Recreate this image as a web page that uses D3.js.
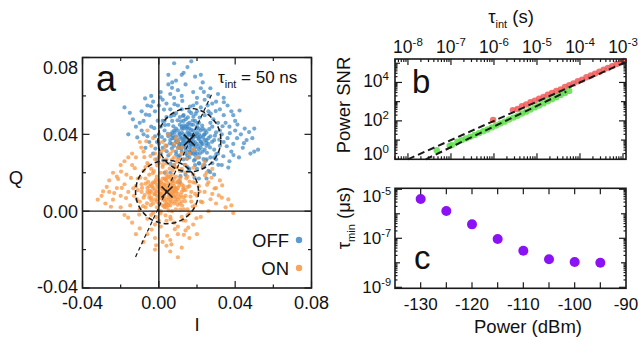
<!DOCTYPE html>
<html><head><meta charset="utf-8">
<script src="https://cdn.jsdelivr.net/npm/d3@7"></script>
<style>
body{margin:0;background:#fff}
svg{display:block}
text{font-family:"Liberation Sans",Arial,Helvetica,sans-serif;fill:#111}
</style>
</head><body>
<svg id="chart" width="639" height="339"></svg>
<script>
// ---------------- DATA ----------------
// Panel a: IQ scatter, coordinates in units of 0.001 (I, Q pairs)
const IQ_UNIT = 0.001;
const offPoints = [
16,37, 14,38, 18,36, 15,35, 17,40, 13,36, 19,39, 12,38, 20,35, 16,33, 15,41, 18,42, 11,35, 21,38, 14,33, 17,34, 13,40, 19,33, 16,40, 20,41, 12,41, 22,36, 10,37, 18,38, 14,36, 17,37, 15,39, 19,36, 13,34, 21,40,
8,38, 24,37, 16,46, 16,28, 9,43, 23,43, 9,31, 23,31, 11,45, 21,46, 11,29, 21,28, 7,35, 25,34, 7,41, 25,41, 13,47, 19,47, 13,27, 19,27, 6,37, 26,38, 10,33, 22,33, 10,42, 22,42, 14,44, 18,30, 12,31, 20,44, 8,34, 24,40, 17,45, 15,29, 9,39, 23,35, 11,40, 21,32, 15,44, 17,30, 6,40, 26,35, 12,44, 20,30, 10,36, 22,39, 14,30, 18,45, 8,42, 24,32, 13,43, 19,31, 11,33, 21,43, 16,43, 16,31, 7,38, 25,37, 12,35, 20,39,
3,37, 29,37, 16,52, 16,22, 5,45, 27,46, 5,29, 27,28, 0,40, 32,34, 2,33, 30,41, 8,50, 24,50, 8,24, 24,24, 12,53, 20,52, 12,21, 20,22, 1,44, 31,30, 4,49, 28,25, -1,36, 33,40, 6,53, 26,52, 6,20, 26,21, 10,55, 22,54, 3,42, 29,32, 4,34, 28,44, 18,55, 14,19, 1,30, 31,46, 7,47, 25,27, 9,51, 23,23, 2,47, 30,27, -2,39, 34,36, 13,50, 19,24, 5,39, 27,39, 11,49, 21,25, 0,35, 32,42, 17,51, 15,23, 3,47, 29,28,
-4,44, 36,38, -6,39, 38,31, -3,30, 35,46, -8,47, 40,42, -5,50, 37,26, 0,55, 32,53, 2,58, 30,57, 6,61, 26,60, 10,63, 22,64, 14,66, 18,62, -7,33, 39,35, -9,42, 41,38, -2,52, 34,50, 4,56, 28,56, 8,59, 24,58, 12,60, 20,59, -5,36, 37,44, -1,27, 33,24, 3,20, 29,19, 7,16, 25,17, 11,15, 21,17, -10,46, 43,40, -6,55, 38,52, 1,62, 31,61, 5,66, 27,64, 9,68, 23,67, 13,72, 19,70, 17,78, -8,40, 44,33, 46,37, 48,30, 49,38, 50,31, 42,28, 45,43, 40,47, 36,55, 34,59, 39,50, -3,57, 5,71, 15,75, 22,71, -12,44, -9,52, -4,60,
8,77, 12,71, 7,67, -18,54, -16,40, 52,32, 50,43,
15.5,36.2, 17.3,38.8, 13.7,39.1, 18.6,34.4, 12.4,36.9, 20.8,37.6, 16.9,42.3, 14.2,31.8, 19.7,43.1, 10.8,40.4, 22.3,34.9, 16.1,30.6, 13.1,44.7, 21.6,30.1, 9.4,35.8, 23.7,39.8, 17.8,47.2, 14.8,27.4, 11.9,32.6, 20.2,45.9, 8.3,40.9, 24.9,35.6, 15.2,48.8, 18.4,26.3, 7.6,44.2, 26.4,42.7, 12.7,49.6, 21.1,24.8, 10.2,28.3, 25.2,30.4, 6.8,32.7, 27.9,36.1, 19.3,50.6, 13.6,24.1, 4.7,40.2, 28.6,47.8, 9.8,47.3, 23.4,27.1, 17.1,34.8, 15.8,40.7, 18.9,40.1, 13.3,37.8, 11.2,38.6, 21.9,36.4, 16.6,35.1, 14.6,42.9, 19.1,29.2, 12.1,43.1, 22.7,44.6, 8.9,36.3, 24.2,42.1, 17.4,31.9, 15.1,45.3, 20.6,33.7, 10.6,34.1, 23.1,38.4, 14.1,47.9, 18.1,49.2, 7.2,39.4, 26.8,33.2, 11.6,46.8, 21.4,48.7, 9.1,29.6, 24.6,26.2, 5.8,35.3, 29.4,39.3, 16.3,54.4, 15.7,21.4, 3.2,44.8, 31.7,37.2, 6.3,49.4, 27.2,50.8, 4.1,31.2, 30.1,29.7, 1.6,38.6, 33.4,44.2, 19.8,56.3, 12.3,57.4, -0.6,47.1, 35.6,33.8, 2.7,52.9, 29.8,52.1, 8.2,55.7, 25.6,55.1, -2.4,43.2, 37.2,40.6, -6.8,50.3, 41.2,45.1, -11.3,38.4, 44.6,35.4, 0.8,59.3, 34.1,56.7, -4.1,54.6, 39.1,29.2, -13.6,47.8, 47.3,41.2, 23.6,62.1, 6.9,64.2, -7.2,58.7, 42.3,52.4, -15.2,51.2, 36.4,22.7, 2.3,26.4, 31.2,24.1, -1.8,32.6, 6.1,24.6, 11.3,18.2, 26.9,20.3, 18.7,17.4, 33.8,28.6
];
const onPoints = [
4,10, 2,11, 6,9, 3,8, 5,12, 1,9, 7,11, 0,10, 8,8, 4,6, 3,14, 6,14, -1,8, 9,10, 2,6, 5,7, 1,13, 7,7, 4,13, 8,13, 0,12, 10,9, -2,11, 6,11, 2,9, 5,10, 3,12, 7,9, 1,7, 9,12,
-4,10, 12,10, 4,19, 4,2, -3,15, 11,16, -3,4, 11,4, -1,18, 9,18, -1,2, 9,1, -5,7, 13,7, -5,13, 13,13, 1,20, 7,19, 1,0, 7,0, -6,10, 14,11, -2,6, 10,6, -2,15, 10,15, 2,17, 6,3, 0,4, 8,17, -4,7, 12,14, 5,18, 3,2, -3,12, 11,7, -1,14, 9,5, 3,17, 5,3, -6,12, 14,8, 0,16, 8,4, -2,9, 10,12, 2,3, 6,18, -4,14, 12,5, 1,15, 7,5, -1,5, 9,15, 4,16, 4,4, -5,9, 13,11, 0,8, 8,12,
-9,10, 17,10, 4,25, 4,-5, -7,17, 15,18, -7,2, 15,1, -12,13, 20,8, -10,5, 18,15, -4,22, 12,22, -4,-2, 12,-3, 0,25, 8,24, 0,-5, 8,-6, -11,17, 19,3, -8,21, 16,-1, -13,8, 21,13, -6,25, 14,24, -6,-4, 14,-5, -2,27, 10,27, -2,-7, 10,-8, -9,14, 17,5, -10,1, 18,19, -5,19, 13,1, -3,-1, 11,21, -8,7, 16,13, 2,23, 6,-3, -11,11, 19,9, -7,23, 15,-2, 1,-8, 7,27,
-16,10, 24,10, -18,14, 22,5, -15,3, 26,15, -20,8, 28,9, -17,19, 25,20, -14,24, 23,24, -12,28, 20,28, -8,31, 16,30, -4,34, 12,33, 0,36, 8,35, 5,40, -6,42, -10,36, -14,30, -22,12, -24,6, -26,16, -28,4, -30,8, -32,6, -20,2, -18,-2, -14,-6, -10,-9, -6,-12, -2,-14, 2,-16, 6,-15, 10,-12, 14,-10, 18,-7, 22,-3, 26,0, 30,4, 33,7, 35,2, 38,3, 39,-1, 30,12, 32,16, 28,22, -24,20, -20,24, -16,28, -2,-20, 6,-21, 12,-19, 10,-24, 4,-18, -8,-16, -12,-12, 16,-14, 20,-12, -26,10, -22,18, 24,26, 3,32, 9,38, -3,38, 18,32, -18,26,
6,30, 10,33, 2,36, -2,30, 8,28, 12,30, 0,28, 4,27,
3.6,10.4, 5.3,8.7, 1.8,11.6, 6.7,12.3, 2.4,7.2, 7.8,9.6, 0.6,9.1, 4.9,14.6, 3.1,5.4, 9.3,11.2, -0.8,12.7, 5.9,5.9, 1.2,15.1, 8.6,6.4, -2.3,8.8, 10.7,13.4, 4.2,17.2, 2.9,2.8, -3.4,12.9, 11.6,8.3, 6.4,16.8, 0.3,3.9, -1.6,16.3, 9.9,3.3, -4.8,10.6, 12.8,11.9, 3.8,20.6, 5.1,0.4, -5.6,15.2, 13.7,5.2, 7.3,21.4, 0.9,-1.2, -7.4,8.4, 15.2,12.6, -3.1,19.8, 11.2,0.8, -6.2,4.1, 14.4,17.1, 2.2,24.2, 6.2,-4.2, -8.8,12.1, 16.6,7.6, -1.2,-3.1, 9.6,22.8, -9.7,17.4, 17.8,2.4, -11.6,6.3, 19.2,14.8, -5.3,24.1, 12.6,-4.8, -13.4,11.9, 21.4,10.2, 0.2,28.6, 8.4,-9.4, -14.6,17.3, 22.8,4.6, -10.3,-1.8, 18.1,22.6, -17.2,6.8, 25.3,13.7, -7.6,28.1, 14.7,27.2, -19.4,12.1, 27.1,6.2, -3.8,-9.6, 13.1,-12.3, -21.3,16.7, 29.2,11.8, -16.1,-3.4, 4.4,-12.8, -9.2,33.1, 1.4,31.3, -12.6,22.4, 19.7,-3.7, -23.4,9.4, 24.2,18.6, -27.3,12.6, 31.4,8.2, -6.6,36.4, 6.6,-17.3, 15.4,-8.6, -1.4,-17.8, -19.8,20.6, 27.6,17.4, -25.1,2.3, 33.2,13.4, -29.2,10.3, 36.4,6.1, -4.2,3.1, 11.3,17.4, -2.6,20.8, 7.4,14.2, 1.7,12.3, 5.6,4.6, -0.4,6.2, 8.2,10.6, 3.3,16.4, 6.1,7.8, 2.6,13.8, 4.6,11.6, 0.4,14.1, 7.1,15.6, -1.1,10.2, 9.1,7.6, 3.9,3.6, 10.3,15.9, -3.9,5.6, 12.2,2.9, 5.7,22.1, -6.9,14.3, 16.1,15.4, -0.9,23.8, 9.3,25.6, -8.3,2.6, 3.5,-2.2, 13.9,20.1,
7.3,31.4, 3.4,34.2, 9.8,36.1, -4.4,28.7, 11.4,27.3
];
const stateCentersI = [0.016, 0.0043];   // OFF, ON
const stateCentersQ = [0.037, 0.010];
const stateRadius = 0.0165;
const axisLineI = [-0.0122, 0.0281];
const axisLineQ = [-0.0238, 0.0617];
const legendLabels = ["OFF", "ON"];
const ticksIQ = [-0.04, -0.02, 0.00, 0.02, 0.04, 0.06, 0.08];
const ticksIQLabels = ["-0.04", "0.00", "0.04", "0.08"];

// Panel b: power SNR vs integration time
const tauRed = [9.55e-7,2.75e-6,3.55e-6,4.47e-6,5.62e-6,7.08e-6,8.91e-6,1.12e-5,1.41e-5,1.78e-5,2.24e-5,2.82e-5,3.55e-5,4.47e-5,5.62e-5,7.08e-5,8.91e-5,1.12e-4,1.41e-4,1.78e-4,2.24e-4,2.82e-4,3.55e-4,4.47e-4,5.62e-4,7.08e-4,8.91e-4,1.05e-3];
const snrRed = [112,363,417,575,708,933,1120,1445,1740,2290,2820,3630,4370,5750,7240,8910,11500,14100,18600,22900,28800,36300,45700,57500,70800,91200,112000,132000];
const tauGreen = [4.68e-8,9.33e-8,1.05e-7,1.41e-7,1.78e-7,2.24e-7,2.82e-7,3.55e-7,4.47e-7,5.62e-7,7.08e-7,8.91e-7,1.12e-6,1.41e-6,1.78e-6,2.24e-6,2.82e-6,3.55e-6,4.47e-6,5.62e-6,7.08e-6,8.91e-6,1.12e-5,1.41e-5,1.78e-5,2.24e-5,2.82e-5,3.55e-5,4.47e-5,5.62e-5];
const snrGreen = [2.95,5.01,5.50,8.32,10,12.0,14.8,18.6,22.9,28.8,35.5,45.7,57.5,72.4,91.2,117,148,186,240,302,389,501,631,813,1047,1318,1698,2188,2818,3631];
const fitUpperTau = [1e-8, 1.15e-3];
const fitUpperSnr = [1, 1.15e5];
const fitLowerTau = [2.6e-8, 4.8e-5];
const fitLowerSnr = [1, 3300];
const tauTickExps = [-8, -7, -6, -5, -4, -3];
const snrTickExps = [0, 2, 4];

// Panel c: minimum time vs power
const powerDbm = [-130, -125, -120, -115, -110, -105, -100, -95];
const tauMin = [4.0e-6, 1.3e-6, 3.7e-7, 9.3e-8, 3.1e-8, 1.4e-8, 1.07e-8, 1.0e-8];
const powerTicks = [-130, -120, -110, -100, -90];
const tauMinTickExps = [-5, -7, -9];

// ---------------- DRAW ----------------
const svg = d3.select("#chart");
const ink = "#1a1a1a";

function frame(x0, x1, y0, y1) {
  svg.append("rect").attr("x", x0).attr("y", y0).attr("width", x1 - x0).attr("height", y1 - y0)
    .attr("fill", "none").attr("stroke", ink).attr("stroke-width", 1.6);
}
function tick(x1, y1, x2, y2) {
  svg.append("line").attr("x1", x1).attr("y1", y1).attr("x2", x2).attr("y2", y2)
    .attr("stroke", ink).attr("stroke-width", 1.2);
}
function powLabel(x, y, anchor, exp, size, supSize) {
  const t = svg.append("text").attr("x", x).attr("y", y).attr("text-anchor", anchor)
    .attr("font-size", size);
  t.append("tspan").text("10");
  t.append("tspan").attr("dy", -size * 0.42).attr("font-size", supSize).text(String(exp));
  return t;
}
function logTicks(scale) {
  const [a, b] = scale.domain();
  const out = [];
  for (let k = Math.floor(Math.log10(a)); k <= Math.ceil(Math.log10(b)); k++) {
    for (let m = 1; m <= 9; m++) {
      const v = m * Math.pow(10, k);
      if (v >= a * 0.9999 && v <= b * 1.0001) out.push({ v, k, major: m === 1 });
    }
  }
  return out;
}

// ===== Panel a =====
const xA = d3.scaleLinear().domain([-0.04, 0.08]).range([82.5, 311.5]);
const yA = d3.scaleLinear().domain([-0.04, 0.08]).range([288, 57.5]);

const toPairs = arr => d3.range(0, arr.length, 2).map(i => [arr[i] * IQ_UNIT, arr[i + 1] * IQ_UNIT]);
const offData = toPairs(offPoints);
const onData = toPairs(onPoints);
const offColor = "#3d88c5", onColor = "#f8943f";

const gA = svg.append("g");
gA.selectAll("circle.off").data(offData).join("circle").attr("class", "off")
  .attr("cx", d => xA(d[0])).attr("cy", d => yA(d[1])).attr("r", 2.1)
  .attr("fill", offColor).attr("fill-opacity", 0.72);
gA.selectAll("circle.on").data(onData).join("circle").attr("class", "on")
  .attr("cx", d => xA(d[0])).attr("cy", d => yA(d[1])).attr("r", 2.1)
  .attr("fill", onColor).attr("fill-opacity", 0.72);

// zero lines
svg.append("line").attr("x1", xA(0)).attr("x2", xA(0)).attr("y1", yA(0.08)).attr("y2", yA(-0.04))
  .attr("stroke", ink).attr("stroke-width", 1.4);
svg.append("line").attr("x1", xA(-0.04)).attr("x2", xA(0.08)).attr("y1", yA(0)).attr("y2", yA(0))
  .attr("stroke", ink).attr("stroke-width", 1.4);

// state circles
stateCentersI.forEach((ci, i) => {
  svg.append("ellipse").attr("cx", xA(ci)).attr("cy", yA(stateCentersQ[i]))
    .attr("rx", xA(stateRadius) - xA(0)).attr("ry", yA(0) - yA(stateRadius))
    .attr("fill", "none").attr("stroke", ink).attr("stroke-width", 1.5).attr("stroke-dasharray", "5,3");
  svg.append("path").attr("transform", `translate(${xA(ci)},${yA(stateCentersQ[i])})`)
    .attr("d", "M-5.5,-5.5L5.5,5.5M-5.5,5.5L5.5,-5.5").attr("stroke", ink).attr("stroke-width", 1.6);
});
svg.append("line").attr("x1", xA(axisLineI[0])).attr("y1", yA(axisLineQ[0]))
  .attr("x2", xA(axisLineI[1])).attr("y2", yA(axisLineQ[1]))
  .attr("stroke", ink).attr("stroke-width", 1.2).attr("stroke-dasharray", "4,3");

frame(82.5, 311.5, 57.5, 288);
ticksIQ.forEach(v => {
  const major = Math.abs(v / 0.04 - Math.round(v / 0.04)) < 1e-6;
  const L = major ? 7 : 3.5;
  const x = xA(v), y = yA(v);
  tick(x, 288, x, 288 - L); tick(x, 57.5, x, 57.5 + L);
  tick(82.5, y, 82.5 + L, y); tick(311.5, y, 311.5 - L, y);
});
ticksIQLabels.forEach(s => {
  const v = +s;
  svg.append("text").attr("x", xA(v)).attr("y", 309).attr("text-anchor", "middle").attr("font-size", 18).text(s);
  svg.append("text").attr("x", 78).attr("y", Math.min(Math.max(yA(v) + 6.5, 74), 293)).attr("text-anchor", "end").attr("font-size", 18).text(s);
});
svg.append("text").attr("x", 197).attr("y", 331).attr("text-anchor", "middle").attr("font-size", 18.5).text("I");
svg.append("text").attr("x", 16).attr("y", 184).attr("text-anchor", "middle").attr("font-size", 18.5).text("Q");
svg.append("text").attr("x", 96).attr("y", 91).attr("font-size", 36).text("a");
const tA = svg.append("text").attr("x", 218).attr("y", 83).attr("font-size", 17);
tA.append("tspan").text("τ");
tA.append("tspan").attr("dy", 5).attr("font-size", 11).text("int");
tA.append("tspan").attr("dy", -5).text(" = 50 ns");
// legend
const legColors = [offColor, onColor];
legendLabels.forEach((s, i) => {
  svg.append("text").attr("x", 289).attr("y", 247 + i * 28).attr("text-anchor", "end").attr("font-size", 18.5).text(s);
  svg.append("circle").attr("cx", 299).attr("cy", 240 + i * 28).attr("r", 3.2).attr("fill", legColors[i]).attr("fill-opacity", 0.85);
});

// ===== Panel b =====
const bL = 395, bR = 626, bT = 59, bB = 159.3;
const xB = d3.scaleLog().domain([5e-9, 1.175e-3]).range([bL, bR]);
const yB = d3.scaleLog().domain([1, 1.66e5]).range([bB, bT]);

svg.append("g").selectAll("circle").data(tauRed.map((t, i) => [t, snrRed[i]])).join("circle")
  .attr("cx", d => xB(d[0])).attr("cy", d => yB(d[1])).attr("r", 3.2)
  .attr("fill", "#f25a5a").attr("fill-opacity", 0.85);
svg.append("g").selectAll("circle").data(tauGreen.map((t, i) => [t, snrGreen[i]])).join("circle")
  .attr("cx", d => xB(d[0])).attr("cy", d => yB(d[1])).attr("r", 3.2)
  .attr("fill", "#5ce046").attr("fill-opacity", 0.85);
[[fitUpperTau, fitUpperSnr], [fitLowerTau, fitLowerSnr]].forEach(([tt, ss]) => {
  svg.append("line").attr("x1", xB(tt[0])).attr("y1", yB(ss[0])).attr("x2", xB(tt[1])).attr("y2", yB(ss[1]))
    .attr("stroke", ink).attr("stroke-width", 2).attr("stroke-dasharray", "7,4");
});
frame(bL, bR, bT, bB);
logTicks(xB).forEach(t => {
  const L = t.major ? 6 : 3;
  const x = xB(t.v);
  tick(x, bT, x, bT + L); tick(x, bB, x, bB - L);
});
logTicks(yB).forEach(t => {
  const L = t.major ? (t.k % 2 === 0 ? 7 : 5) : 2.5;
  const y = yB(t.v);
  tick(bL, y, bL + L, y); tick(bR, y, bR - L, y);
});
tauTickExps.forEach(e => powLabel(xB(Math.pow(10, e)), 53, "middle", e, 17.5, 11.5));
snrTickExps.forEach(e => powLabel(389, Math.min(yB(Math.pow(10, e)) + 5, bB + 1), "end", e, 17.5, 11.5));
const tB = svg.append("text").attr("x", 511).attr("y", 23).attr("text-anchor", "middle").attr("font-size", 18.5);
tB.append("tspan").text("τ");
tB.append("tspan").attr("dy", 5).attr("font-size", 11).text("int");
tB.append("tspan").attr("dy", -5).text(" (s)");
svg.append("text").attr("transform", "translate(350,105) rotate(-90)").attr("text-anchor", "middle")
  .attr("font-size", 18.5).text("Power SNR");
svg.append("text").attr("x", 412).attr("y", 93).attr("font-size", 33).text("b");

// ===== Panel c =====
const cL = 395, cR = 626, cT = 188.3, cB = 288.3;
const xC = d3.scaleLinear().domain([-135, -90]).range([cL, cR]);
const yC = d3.scaleLog().domain([9.12e-10, 1.096e-5]).range([cB, cT]);

svg.append("g").selectAll("circle").data(powerDbm.map((p, i) => [p, tauMin[i]])).join("circle")
  .attr("cx", d => xC(d[0])).attr("cy", d => yC(d[1])).attr("r", 5)
  .attr("fill", "#8a12f5");
frame(cL, cR, cT, cB);
d3.range(-130, -90, 5).forEach(v => {
  const x = xC(v);
  tick(x, cT, x, cT + 6); tick(x, cB, x, cB - 6);
});
logTicks(yC).forEach(t => {
  const L = t.major ? (Math.abs(t.k) % 2 === 1 ? 7 : 5) : 2.5;
  const y = yC(t.v);
  tick(cL, y, cL + L, y); tick(cR, y, cR - L, y);
});
powerTicks.forEach(v => {
  svg.append("text").attr("x", xC(v)).attr("y", 310).attr("text-anchor", "middle").attr("font-size", 17).text(v);
});
tauMinTickExps.forEach(e => powLabel(391, Math.max(yC(Math.pow(10, e)) + 6, 202), "end", e, 17, 11));
svg.append("text").attr("x", 528).attr("y", 333).attr("text-anchor", "middle").attr("font-size", 18.5).text("Power (dBm)");
const tC = svg.append("text").attr("transform", "translate(350,218) rotate(-90)").attr("text-anchor", "middle").attr("font-size", 18.5);
tC.append("tspan").text("τ");
tC.append("tspan").attr("dy", 5).attr("font-size", 11).text("min");
tC.append("tspan").attr("dy", -5).text(" (μs)");
svg.append("text").attr("x", 414).attr("y", 269).attr("font-size", 33).text("c");
</script>
</body></html>
